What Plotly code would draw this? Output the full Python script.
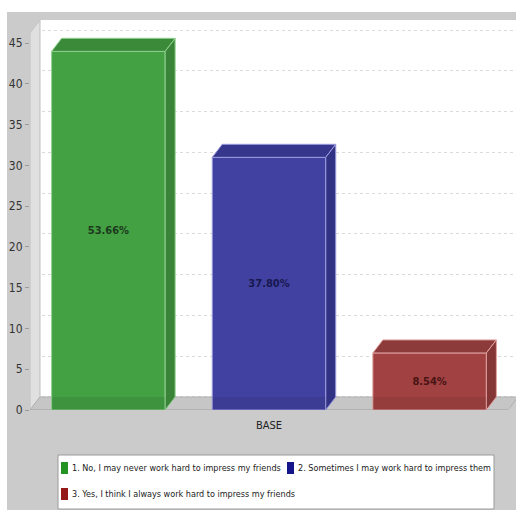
import plotly.graph_objects as go

# Survey answers and how many respondents picked each one
answers = [
    "1. No, I may never work hard to impress my friends",
    "2. Sometimes I may work hard to impress them",
    "3. Yes, I think I always work hard to impress my friends",
]
counts = [44, 31, 7]
category = "BASE"
y_ticks = [0, 5, 10, 15, 20, 25, 30, 35, 40, 45]

# Face colours for the pseudo-3D boxes
front_colors = ["#43a043", "#4141a1", "#a14141"]
top_colors = ["#3a8a3a", "#36368c", "#8c3a3a"]
side_colors = ["#3a843a", "#323284", "#843535"]
edge_colors = ["#8fd08f", "#9c9ce0", "#e0a0a0"]
label_colors = ["#1c3a1c", "#181850", "#481414"]
key_colors = ["#239323", "#16168c", "#941a1a"]

FONT = "Liberation Sans Narrow, DejaVu Sans Condensed, Arial Narrow, sans-serif"
PANEL = "#cbcbcb"

# Page / plot-area geometry in pixels
W, H = 516, 510
ML, MR, MT, MB = 30, 0, 20, 100
PW, PH = W - ML - MR, H - MT - MB

# Box geometry (axis units)
SLOT = 0.336      # distance between bar centres
BAR_W = 0.2375    # bar width
DX = 0.0209       # depth offset along x
DY = 1.6          # depth offset along y
Y_TOP = 47.85
X_MIN, X_MAX = -0.5, 0.5167


def px(xp):
    return (xp - ML) / PW


def py(yp):
    return (H - MB - yp) / PH


total = sum(counts)
positions = [(i - 1) * SLOT for i in range(len(counts))]

fig = go.Figure()

shapes = []
# outer grey panel
shapes.append(dict(type="rect", xref="paper", yref="paper",
                   x0=px(7), x1=px(W), y0=py(H), y1=py(12),
                   fillcolor=PANEL, line=dict(width=0), layer="below"))
# white back wall (under the gridlines)
shapes.append(dict(type="rect", xref="x", yref="y",
                   x0=X_MIN + DX, x1=X_MAX + 0.05, y0=DY, y1=Y_TOP,
                   fillcolor="white", line=dict(width=0), layer="below"))
# left side wall
shapes.append(dict(type="path", xref="x", yref="y",
                   path=f"M {X_MIN},0 L {X_MIN},{Y_TOP - DY} L {X_MIN + DX},{Y_TOP} "
                        f"L {X_MIN + DX},{DY} Z",
                   fillcolor="#e0e0e0", line=dict(color="#bdbdbd", width=1),
                   layer="between"))
# panel corner above the side wall
shapes.append(dict(type="path", xref="x", yref="y",
                   path=f"M {X_MIN},{Y_TOP} L {X_MIN},{Y_TOP - DY} L {X_MIN + DX},{Y_TOP} Z",
                   fillcolor=PANEL, line=dict(width=0), layer="between"))
# floor
shapes.append(dict(type="path", xref="x", yref="y",
                   path=f"M {X_MIN},0 L 0.5,0 L {0.5 + DX},{DY} L {X_MIN + DX},{DY} Z",
                   fillcolor="#c6c6c6", line=dict(color="#b0b0b0", width=1),
                   layer="between"))
# panel corner right of the floor
y_cut = (X_MAX - 0.5) / DX * DY
shapes.append(dict(type="path", xref="x", yref="y",
                   path=f"M 0.5,0 L {X_MAX + 0.01},0 L {X_MAX + 0.01},{y_cut} Z",
                   fillcolor=PANEL, line=dict(width=0), layer="between"))
# front floor edge
shapes.append(dict(type="line", xref="x", yref="y", x0=X_MIN, x1=0.5, y0=0, y1=0,
                   line=dict(color="#a8a8a8", width=1), layer="between"))

for i, (name, v, xc) in enumerate(zip(answers, counts, positions)):
    x0, x1 = xc - BAR_W / 2, xc + BAR_W / 2
    # top face
    fig.add_trace(go.Scatter(
        x=[x0, x1, x1 + DX, x0 + DX, x0], y=[v, v, v + DY, v + DY, v],
        mode="lines", fill="toself", fillcolor=top_colors[i],
        line=dict(color=edge_colors[i], width=1), showlegend=False, hoverinfo="skip"))
    # right side face
    fig.add_trace(go.Scatter(
        x=[x1, x1, x1 + DX, x1 + DX, x1], y=[0, v, v + DY, DY, 0],
        mode="lines", fill="toself", fillcolor=side_colors[i],
        line=dict(color=edge_colors[i], width=1), showlegend=False, hoverinfo="skip"))
    # front face with percentage label
    fig.add_trace(go.Bar(
        x=[xc], y=[v], width=[BAR_W], name=name, showlegend=False,
        marker=dict(color=front_colors[i], line=dict(color=edge_colors[i], width=1)),
        text=[f"{v / total * 100:.2f}%"], textposition="inside",
        insidetextanchor="middle", textangle=0,
        textfont=dict(family=FONT, size=11, color=label_colors[i], weight="bold"),
        cliponaxis=False))
    # slight shade where the bar meets the floor
    shapes.append(dict(type="rect", xref="x", yref="y", x0=x0, x1=x1, y0=0, y1=DY,
                       fillcolor="rgba(0,0,0,0.07)", line=dict(width=0), layer="above"))

# carrier for the back-wall grid axis
fig.add_trace(go.Scatter(x=[], y=[], yaxis="y2", showlegend=False, hoverinfo="skip"))

# key box below the chart: two entries on the first row, one on the second
key_rows = [(70, 468), (296, 468), (70, 494)]
shapes.append(dict(type="rect", xref="paper", yref="paper",
                   x0=px(58), x1=px(494), y0=py(509), y1=py(455),
                   fillcolor="white", line=dict(color="#9a9a9a", width=1), layer="above"))
annotations = []
for i, (name, (tx, ty)) in enumerate(zip(answers, key_rows)):
    shapes.append(dict(type="rect", xref="paper", yref="paper",
                       x0=px(tx - 9), x1=px(tx - 2), y0=py(ty + 6), y1=py(ty - 6),
                       fillcolor=key_colors[i], line=dict(width=0), layer="above"))
    annotations.append(dict(xref="paper", yref="paper", x=px(tx), y=py(ty),
                            xanchor="left", yanchor="middle", showarrow=False,
                            text=name, font=dict(family=FONT, size=9, color="#222222")))

fig.update_layout(
    width=W, height=H, autosize=False,
    margin=dict(l=ML, r=MR, t=MT, b=MB),
    paper_bgcolor="white", plot_bgcolor="rgba(0,0,0,0)",
    barmode="overlay",
    font=dict(family=FONT, size=12, color="#222222"),
    shapes=shapes,
    annotations=annotations,
    showlegend=False,
    xaxis=dict(range=[X_MIN, X_MAX], tickvals=[0], ticktext=[category],
               showgrid=False, zeroline=False, showline=False, ticks="",
               ticklabelstandoff=7,
               tickfont=dict(size=11, color="#222222"), fixedrange=True),
    yaxis=dict(range=[0, Y_TOP], tickvals=y_ticks, showgrid=False, zeroline=False,
               showline=False, ticks="outside", ticklen=4, tickcolor="#9a9a9a",
               tickfont=dict(size=12, color="#333333"), fixedrange=True),
    yaxis2=dict(overlaying="y", range=[-DY, Y_TOP - DY], tickvals=y_ticks,
                showgrid=True, gridcolor="#dadada", griddash="dot", gridwidth=1,
                showticklabels=False, ticks="", zeroline=False, showline=False),
)

fig.write_html("out.html")
